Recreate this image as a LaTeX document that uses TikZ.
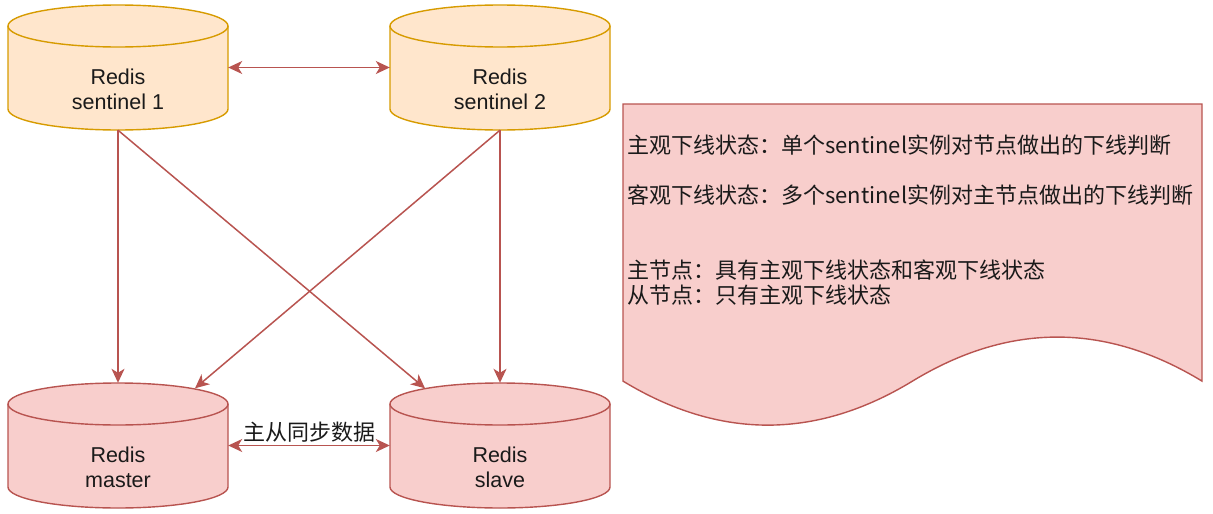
\documentclass[tikz,border=0pt]{standalone}
\usepackage{fontspec}
\setmainfont{Liberation Sans}
\newfontfamily\cjk{Noto Sans CJK SC}
\usetikzlibrary{arrows.meta,calc}
\definecolor{sentfill}{HTML}{FFE6CC}
\definecolor{sentdraw}{HTML}{D79B00}
\definecolor{redfill}{HTML}{F8CECC}
\definecolor{reddraw}{HTML}{B85450}
\definecolor{txt}{HTML}{1A1A1A}
\tikzset{
  sentstyle/.style={fill=sentfill,draw=sentdraw,line width=1.4pt},
  redstyle/.style={fill=redfill,draw=reddraw,line width=1.4pt},
  cylbox/.style={shape=rectangle,draw=none,minimum width=220pt,minimum height=125pt,inner sep=0pt},
  cyltext/.style={align=center,font=\fontsize{21.5}{25}\selectfont,text=txt,inner sep=0pt},
  tip/.style={Stealth[length=14pt,width=13pt,inset=4pt]},
  conn/.style={draw=reddraw,line width=1.5pt,arrows={-Stealth[length=14pt,width=13pt,inset=4pt]}},
  biconn/.style={draw=reddraw,line width=1.5pt,arrows={Stealth[length=14pt,width=13pt,inset=4pt]-Stealth[length=14pt,width=13pt,inset=4pt]}},
  lbl/.style={font=\cjk\fontsize{22}{25}\selectfont,text=txt,inner sep=0pt},
  doctext/.style={font=\cjk\fontsize{22}{25}\selectfont,text=txt,align=left,inner sep=0pt}
}
\newcommand\mycyl[5]{% name, cx, top, style, text
  \path[#4] (#2-110,-#3-21) -- (#2-110,-#3-104)
     arc[start angle=180,end angle=360,x radius=110pt,y radius=21pt]
     -- (#2+110,-#3-21)
     arc[start angle=0,end angle=180,x radius=110pt,y radius=21pt] -- cycle;
  \path[#4,fill=none] (#2-110,-#3-21) arc[start angle=180,end angle=360,x radius=110pt,y radius=21pt];
  \node[cylbox] (#1) at (#2,-#3-62.5) {};
  \node[cyltext] (#1t) at (#2,-#3-84) {#5};
}
\begin{document}
\begin{tikzpicture}[x=1pt,y=1pt]
\useasboundingbox (0,0) rectangle (1213,-514);

\mycyl{s1}{118}{5}{sentstyle}{Redis\\sentinel 1}
\mycyl{s2}{500}{5}{sentstyle}{Redis\\sentinel 2}
\mycyl{m}{118}{383}{redstyle}{Redis\\master}
\mycyl{sl}{500}{383}{redstyle}{Redis\\slave}

\draw[biconn] (s1.east) -- (s2.west);
\draw[biconn] (m.east) -- (sl.west)
  node[lbl,midway,anchor=base,yshift=5pt] (sync) {主从同步数据};
\draw[conn] (s1.south) -- (m.north);
\draw[conn] (s1.south) -- ([xshift=-75pt,yshift=-5.5pt]sl.north);
\draw[conn] (s2.south) -- ([xshift=77pt,yshift=-5.5pt]m.north);
\draw[conn] (s2.south) -- (sl.north);

% document shape
\path[redstyle] (623,-104) -- (1202,-104) -- (1202,-381.1)
  .. controls (1105.5,-322.4) and (1009,-322.4) .. (912.5,-381.1)
  .. controls (816,-439.8) and (719.5,-439.8) .. (623,-381.1) -- cycle;
\node[doctext,anchor=base west] (doc) at (627,-303.4)
 {主观下线状态：单个sentinel实例对节点做出的下线判断\\[25pt]
  客观下线状态：多个sentinel实例对主节点做出的下线判断\\[50pt]
  主节点：具有主观下线状态和客观下线状态\\
  从节点：只有主观下线状态};
\end{tikzpicture}
\end{document}
